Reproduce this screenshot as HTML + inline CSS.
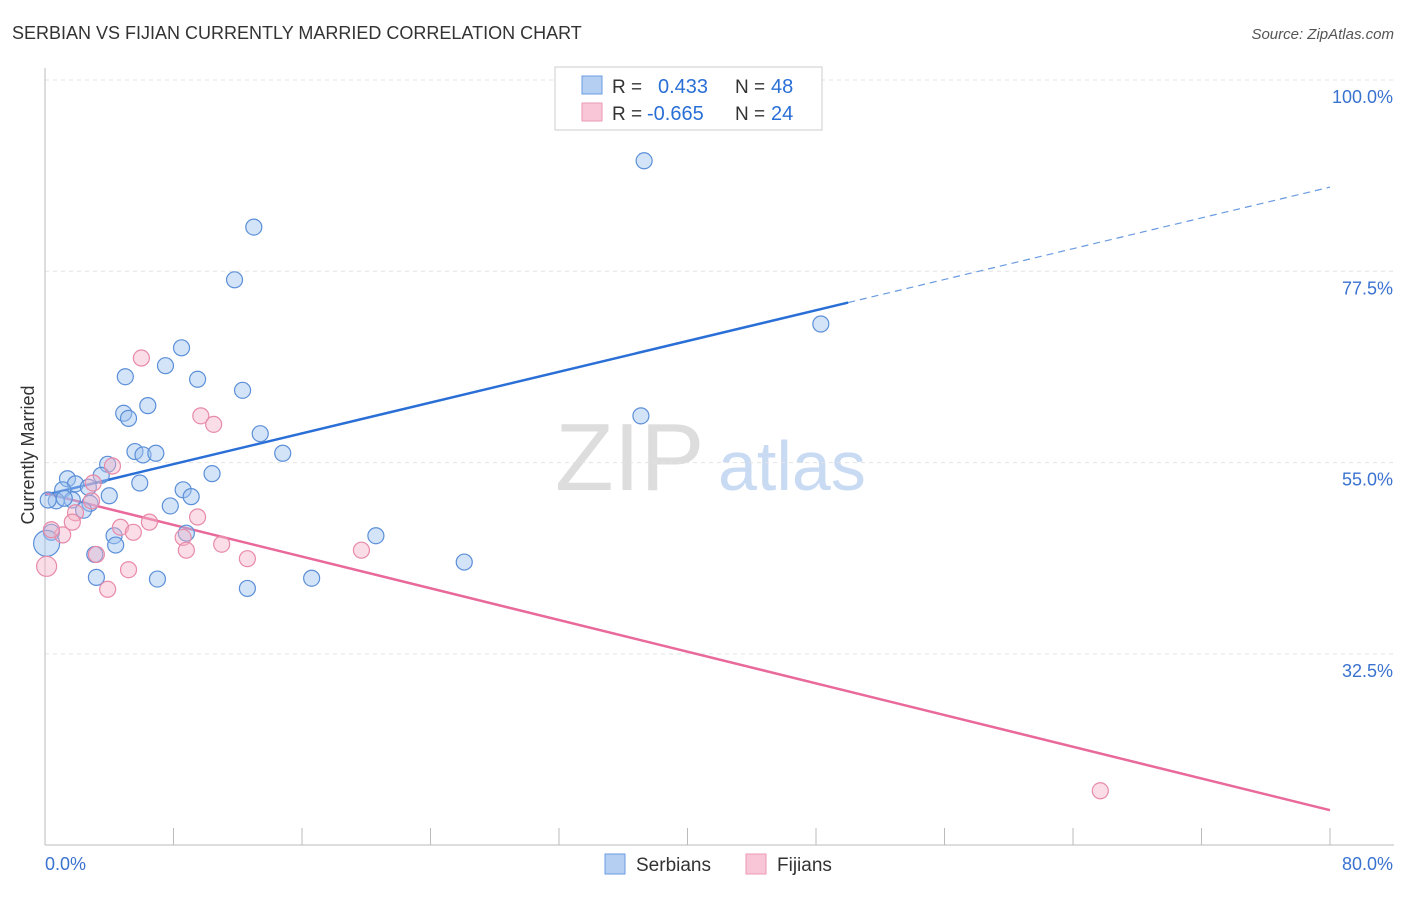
<!DOCTYPE html>
<html><head><meta charset="utf-8"><style>
body{margin:0;background:#fff;font-family:"Liberation Sans",sans-serif}
svg text{font-family:"Liberation Sans",sans-serif}
</style></head><body>
<svg id="chart" width="1406" height="892" xmlns="http://www.w3.org/2000/svg">
<text x="12" y="39" font-size="18" fill="#333">SERBIAN VS FIJIAN CURRENTLY MARRIED CORRELATION CHART</text>
<text x="1394" y="39" font-size="15" fill="#555" text-anchor="end" font-style="italic">Source: ZipAtlas.com</text>
<text x="555" y="490" font-size="96" fill="#ddd" font-family="Liberation Serif">ZIP</text>
<text x="718" y="490" font-size="70" fill="#c9daf3">atlas</text>
<text transform="translate(34,455) rotate(-90)" font-size="18" fill="#333" text-anchor="middle">Currently Married</text>
<g id="grid"></g><g id="axes"></g><g id="lines"></g><g id="pts"></g>
<g>
<rect x="555" y="67" width="267" height="63" fill="#fff" stroke="#ccc"/>
<rect x="582" y="76" width="20" height="18" fill="#b5cff3" stroke="#6a9be0"/>
<rect x="582" y="103" width="20" height="18" fill="#f8c6d6" stroke="#ec9ab4"/>
<text x="612" y="93" font-size="19" fill="#333">R =</text>
<text x="658" y="93" font-size="20" fill="#2a6fd6">0.433</text>
<text x="735" y="93" font-size="19" fill="#333">N =</text>
<text x="771" y="93" font-size="20" fill="#2a6fd6">48</text>
<text x="612" y="120" font-size="19" fill="#333">R =</text>
<text x="647" y="120" font-size="20" fill="#2a6fd6">-0.665</text>
<text x="735" y="120" font-size="19" fill="#333">N =</text>
<text x="771" y="120" font-size="20" fill="#2a6fd6">24</text>
</g>
<g>
<rect x="605" y="854" width="20" height="20" fill="#b5cff3" stroke="#6a9be0"/>
<text x="636" y="871" font-size="19" fill="#333">Serbians</text>
<rect x="746" y="854" width="20" height="20" fill="#f8c6d6" stroke="#ec9ab4"/>
<text x="777" y="871" font-size="19" fill="#333">Fijians</text>
</g>
</svg>
<script>
const xTicks=[0,8,16,24,32,40,48,56,64,72,80];
const yTicks=[32.5,55.0,77.5,100.0];
const yTickLabels=["32.5%","55.0%","77.5%","100.0%"];
const serbX=[37.3,13.0,11.8,48.3,8.5,7.5,5.0,9.5,12.3,6.4,4.9,5.2,37.1,13.4,5.6,6.1,6.9,14.8,10.4,3.9,3.5,1.4,1.9,1.1,2.7,5.9,8.6,9.1,4.0,0.7,1.7,2.8,7.8,2.4,0.4,0.1,4.3,8.8,20.6,4.4,3.1,26.1,3.2,7.0,16.6,12.6,0.2,1.2];
const serbY=[90.5,82.7,76.5,71.3,68.5,66.4,65.1,64.8,63.5,61.7,60.8,60.2,60.5,58.4,56.3,55.9,56.1,56.1,53.7,54.8,53.5,53.1,52.5,51.8,52.1,52.6,51.8,51.0,51.1,50.5,50.6,50.2,49.9,49.4,46.8,45.5,46.4,46.7,46.4,45.3,44.2,43.3,41.5,41.3,41.4,40.2,50.6,50.8];
const fijX=[6.0,9.7,10.5,4.2,3.0,2.9,1.9,6.5,1.7,9.5,4.7,5.5,1.1,8.6,11.0,8.8,19.7,3.2,12.6,5.2,0.1,3.9,65.7,0.4];
const fijY=[67.3,60.5,59.5,54.6,52.6,50.5,49.1,48.0,48.0,48.6,47.4,46.8,46.5,46.2,45.4,44.7,44.7,44.2,43.7,42.4,42.8,40.1,16.4,47.1];
const serbTrend=[51.2,0.4525]; const fijTrend=[51.4,-0.466];
const NS="http://www.w3.org/2000/svg";
const X=v=>45+v/80*1285, Y=v=>80+(100-v)/22.5*191.3;
function mk(t,a,p){const e=document.createElementNS(NS,t);for(const k in a)e.setAttribute(k,a[k]);document.getElementById(p).appendChild(e);return e;}
yTicks.forEach((t,i)=>{
 const g=mk('line',{x1:45,x2:1394,y1:Y(t),y2:Y(t),stroke:'#e3e3e3','stroke-dasharray':'4,4'},'grid');
 
 
 const l=mk('text',{x:1393,y:Y(t)+23,'font-size':18,fill:'#3a72d0','text-anchor':'end'},'axes');l.textContent=yTickLabels[i];
 
 
});
const ax=mk('line',{x1:45,x2:45,y1:68,y2:845,stroke:'#bbb'},'axes');


const bx=mk('line',{x1:45,x2:1394,y1:845,y2:845,stroke:'#bbb'},'axes');


xTicks.forEach(t=>{const e=mk('line',{x1:X(t),x2:X(t),y1:828,y2:845,stroke:'#bbb'},'axes');
 
 });
let t0=mk('text',{x:45,y:870,'font-size':18,fill:'#3a72d0'},'axes');t0.textContent='0.0%';


let t1=mk('text',{x:1393,y:870,'font-size':18,fill:'#3a72d0','text-anchor':'end'},'axes');t1.textContent='80.0%';


const f=(c,x)=>c[0]+c[1]*x;
let l1=mk('line',{x1:X(0),y1:Y(f(serbTrend,0)),x2:X(50),y2:Y(f(serbTrend,50)),stroke:'#2a6fd6','stroke-width':2.5},'lines');


let l2=mk('line',{x1:X(50),y1:Y(f(serbTrend,50)),x2:X(80),y2:Y(f(serbTrend,80)),stroke:'#6a9be0','stroke-width':1.2,'stroke-dasharray':'7,5'},'lines');


let l3=mk('line',{x1:X(0),y1:Y(f(fijTrend,0)),x2:X(80),y2:Y(f(fijTrend,80)),stroke:'#e8699a','stroke-width':2.5},'lines');


serbX.forEach((v,i)=>{const c=mk('circle',{cx:X(v),cy:Y(serbY[i]),r:(i==35?13:8),fill:'rgba(160,195,240,0.45)',stroke:'#5b8fd8','stroke-width':1.2},'pts');
 
 });
fijX.forEach((v,i)=>{const c=mk('circle',{cx:X(v),cy:Y(fijY[i]),r:(i==20?10:8),fill:'rgba(245,180,200,0.45)',stroke:'#e88aa8','stroke-width':1.2},'pts');
 
 });
</script>
</body></html>
